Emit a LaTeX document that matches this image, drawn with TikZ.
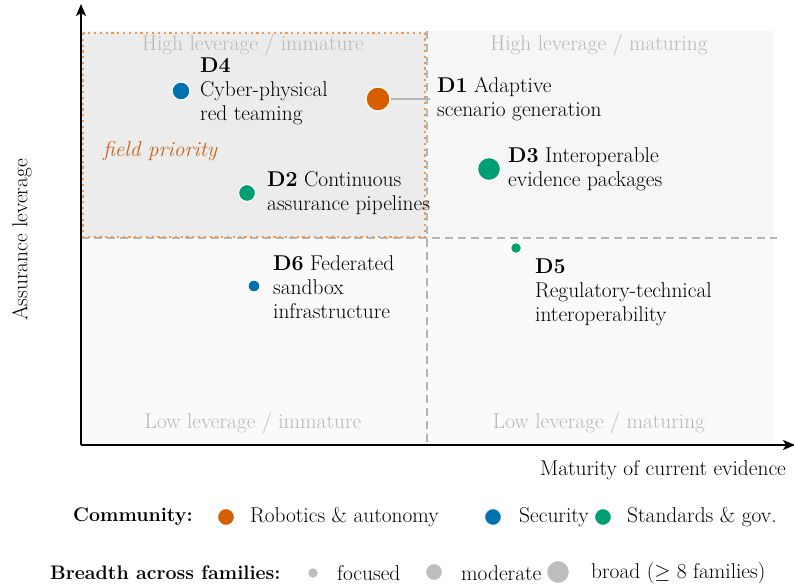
\documentclass[tikz,border=0pt]{standalone}
\usetikzlibrary{arrows.meta}
\definecolor{cOr}{HTML}{D55E00}
\definecolor{cBl}{HTML}{0072B2}
\definecolor{cGr}{HTML}{009E73}
\definecolor{dotgray}{HTML}{BDBDBD}
\definecolor{qtext}{HTML}{B8B8B8}
\definecolor{bgHi}{HTML}{F6F6F6}
\definecolor{bgLo}{HTML}{FAFAFA}
\definecolor{bgPr}{HTML}{ECECEC}
\definecolor{prioline}{HTML}{F09850}
\definecolor{priotext}{HTML}{C8621A}
\definecolor{dashgray}{HTML}{B5B5B5}
\tikzset{
  base font/.style={font=\fontsize{21.4}{24}\selectfont},
  head font/.style={font=\fontsize{19.6}{24}\selectfont},
  lbl/.style={base font, align=left, anchor=north west, inner sep=0pt, text=black},
  qlbl/.style={base font, text=qtext, inner sep=0pt},
  dot/.style={circle, draw=white, line width=1.2pt, inner sep=0pt},
  axis/.style={line width=1.8pt, -{Stealth[length=12pt,width=10pt,inset=3pt]}},
  qdash/.style={draw=dashgray, line width=1.2pt, dash pattern=on 8pt off 5pt},
  leg/.style={base font, anchor=west, inner sep=0pt},
}
\begin{document}
\begin{tikzpicture}[x=1pt,y=-1pt]
\useasboundingbox (0,0) rectangle (794,586);
% backgrounds
\fill[bgHi] (81,31) rectangle (773,238);
\fill[bgLo] (81,238) rectangle (773,445);
\path[fill=bgPr] (83,33) rectangle (425,237);
% quadrant dividers
\draw[qdash] (427,31) -- (427,445);
\draw[qdash] (81,238) -- (777,238);
\path[draw=prioline, line width=2.4pt, line cap=butt, dash pattern=on 2.2pt off 3.6pt] (83,33) rectangle (425,237);
% quadrant labels
\node[qlbl] (qHI) at (253,45) {High leverage / immature};
\node[qlbl] (qHM) at (599,45) {High leverage / maturing};
\node[qlbl] (qLI) at (253,423) {Low leverage / immature};
\node[qlbl] (qLM) at (599,423) {Low leverage / maturing};
% field priority
\node[base font, text=priotext, inner sep=0pt] (fp) at (160,151) {\itshape field priority};
% axes
\coordinate (O) at (81,445);
\coordinate (Ytop) at (81,4);
\coordinate (Xend) at (795,445);
\draw[axis] (O) -- (Ytop);
\draw[axis] (O) -- (Xend);
\node[base font, rotate=90, inner sep=0pt] (ylab) at (22,240) {Assurance leverage};
\node[base font, inner sep=0pt] (xlab) at (663,470) {Maturity of current evidence};
% points
\node[dot, fill=cOr, minimum size=24pt] (pD1) at (378,99) {};
\node[dot, fill=cBl, minimum size=18pt] (pD4) at (181,91) {};
\node[dot, fill=cGr, minimum size=23pt] (pD3) at (489,169) {};
\node[dot, fill=cGr, minimum size=17pt] (pD2) at (247,193) {};
\node[dot, fill=cBl, minimum size=12pt] (pD6) at (254,286) {};
\node[dot, fill=cGr, minimum size=11pt] (pD5) at (516,248) {};
% labels
\node[lbl] (lD4) at (200,57.5) {\textbf{D4}\\Cyber-physical\\red teaming};
\node[lbl] (lD1) at (437,77.5) {\textbf{D1} Adaptive\\scenario generation};
\node[lbl] (lD3) at (508,147.5) {\textbf{D3} Interoperable\\evidence packages};
\node[lbl] (lD2) at (267,171.5) {\textbf{D2} Continuous\\assurance pipelines};
\node[lbl] (lD6) at (273,255.5) {\textbf{D6} Federated\\sandbox\\infrastructure};
\node[lbl] (lD5) at (535,258.5) {\textbf{D5}\\Regulatory-technical\\interoperability};
\coordinate (d1end) at (430,99);
\draw[draw=dashgray, line width=1.2pt] (pD1.east) -- (d1end);
% legend: community
\node[head font, anchor=west, inner sep=0pt] (legC) at (73,517) {\textbf{Community:}};
\node[dot, fill=cOr, minimum size=17pt] (lgOr) at (226,517) {};
\node[leg] (lgOrT) at (250,517) {Robotics \& autonomy};
\node[dot, fill=cBl, minimum size=17pt] (lgBl) at (493,517) {};
\node[leg] (lgBlT) at (519,517) {Security};
\node[dot, fill=cGr, minimum size=17pt] (lgGr) at (603,517) {};
\node[leg] (lgGrT) at (627,517) {Standards \& gov.};
% legend: breadth
\node[head font, anchor=west, inner sep=0pt] (legB) at (50,573) {\textbf{Breadth across families:}};
\node[dot, fill=dotgray, minimum size=11pt] (lgS) at (313,573) {};
\node[leg] (lgST) at (337,573) {focused};
\node[dot, fill=dotgray, minimum size=17pt] (lgM) at (434,572) {};
\node[leg] (lgMT) at (461,573) {moderate};
\node[dot, fill=dotgray, minimum size=23pt] (lgL) at (558,572) {};
\node[leg] (lgLT) at (591,573) {broad ($\geq$ 8 families)};
\end{tikzpicture}
\end{document}
